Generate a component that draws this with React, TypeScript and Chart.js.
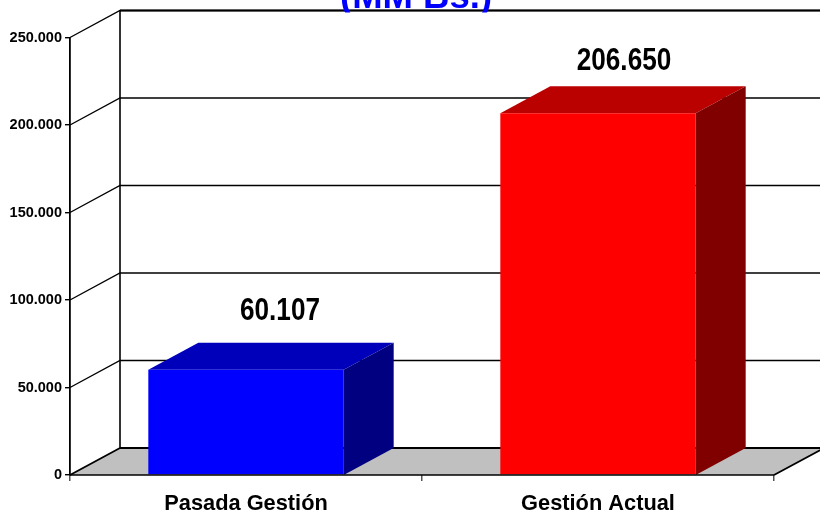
import React, { useEffect, useRef } from "react";
import { Chart, registerables } from "chart.js";

Chart.register(...registerables);

const categories = ["Pasada Gestión", "Gestión Actual"];
const values = [60107, 206650];
const valueLabels = ["60.107", "206.650"];
const frontColors = ["#0000FF", "#FF0000"];
const topColors = ["#0000BB", "#BB0000"];
const sideColors = ["#000080", "#800000"];
const titleText = "(MM Bs.)";
const yMax = 250000;
const yStep = 50000;

const FONT = '"Liberation Sans", Arial, sans-serif';
const DX = 50;
const DY = -27;
const labelShift = [
  { dx: 34, dy: -50 },
  { dx: 26, dy: -43.5 },
];

const formatTick = (v: number) =>
  v === 0 ? "0" : `${Math.floor(v / 1000)}.${String(v % 1000).padStart(3, "0")}`;

const box3d = {
  id: "box3d",
  beforeDatasetsDraw(chart: any) {
    const { ctx, scales } = chart;
    const x = scales.x;
    const y = scales.y;
    const left = x.left;
    const right = x.right;
    const base = y.getPixelForValue(0);
    const top = y.getPixelForValue(yMax);
    ctx.save();
    // floor
    ctx.fillStyle = "#C0C0C0";
    ctx.beginPath();
    ctx.moveTo(left, base);
    ctx.lineTo(right, base);
    ctx.lineTo(right + DX, base + DY);
    ctx.lineTo(left + DX, base + DY);
    ctx.closePath();
    ctx.fill();
    ctx.strokeStyle = "#000";
    // grid on walls
    ctx.lineWidth = 1.4;
    for (let v = yStep; v < yMax + 1; v += yStep) {
      const py = y.getPixelForValue(v);
      ctx.beginPath();
      ctx.moveTo(left, py);
      ctx.lineTo(left + DX, py + DY);
      ctx.lineTo(chart.width + 5, py + DY);
      ctx.stroke();
    }
    // back-left vertical
    ctx.lineWidth = 1.6;
    ctx.beginPath();
    ctx.moveTo(left + DX, top + DY);
    ctx.lineTo(left + DX, base + DY);
    ctx.stroke();
    // top and floor back edges
    ctx.lineWidth = 2;
    ctx.beginPath();
    ctx.moveTo(left + DX, top + DY);
    ctx.lineTo(chart.width + 5, top + DY);
    ctx.moveTo(left + DX, base + DY);
    ctx.lineTo(chart.width + 5, base + DY);
    ctx.stroke();
    // floor diagonals
    ctx.lineWidth = 1.8;
    ctx.beginPath();
    ctx.moveTo(left, base);
    ctx.lineTo(left + DX, base + DY);
    ctx.moveTo(right, base);
    ctx.lineTo(right + DX, base + DY);
    ctx.stroke();
    // bar depth faces
    chart.getDatasetMeta(0).data.forEach((bar: any, i: number) => {
      const hw = bar.width / 2;
      const l = bar.x - hw;
      const r = bar.x + hw;
      ctx.fillStyle = topColors[i];
      ctx.beginPath();
      ctx.moveTo(l, bar.y);
      ctx.lineTo(r, bar.y);
      ctx.lineTo(r + DX, bar.y + DY);
      ctx.lineTo(l + DX, bar.y + DY);
      ctx.closePath();
      ctx.fill();
      ctx.fillStyle = sideColors[i];
      ctx.beginPath();
      ctx.moveTo(r, bar.y);
      ctx.lineTo(r + DX, bar.y + DY);
      ctx.lineTo(r + DX, base + DY);
      ctx.lineTo(r, base);
      ctx.closePath();
      ctx.fill();
    });
    ctx.restore();
  },
  afterDatasetsDraw(chart: any) {
    const { ctx, scales } = chart;
    const base = scales.y.getPixelForValue(0);
    ctx.save();
    // front base edge over bars
    ctx.strokeStyle = "#000";
    ctx.lineWidth = 1.6;
    ctx.beginPath();
    ctx.moveTo(scales.x.left, base);
    ctx.lineTo(scales.x.right, base);
    ctx.stroke();
    // value labels, horizontally condensed
    ctx.fillStyle = "#000";
    ctx.font = `bold 31.5px ${FONT}`;
    ctx.textAlign = "center";
    ctx.textBaseline = "alphabetic";
    chart.getDatasetMeta(0).data.forEach((bar: any, i: number) => {
      ctx.save();
      ctx.translate(bar.x + labelShift[i].dx, bar.y + labelShift[i].dy);
      ctx.scale(0.83, 1);
      ctx.fillText(valueLabels[i], 0, 0);
      ctx.restore();
    });
    // clipped title
    ctx.save();
    ctx.beginPath();
    ctx.rect(0, 0, chart.width, 12.5);
    ctx.clip();
    ctx.fillStyle = "#0000FF";
    ctx.font = `bold 36.5px ${FONT}`;
    ctx.fillText(titleText, 416, 7.5);
    ctx.restore();
    ctx.restore();
  },
};

export default function App() {
  const ref = useRef<HTMLCanvasElement | null>(null);
  useEffect(() => {
    document.body.style.margin = "0";
    document.body.style.background = "#fff";
    const chart = new Chart(ref.current as HTMLCanvasElement, {
      type: "bar",
      data: {
        labels: categories,
        datasets: [
          {
            data: values,
            backgroundColor: frontColors,
            borderWidth: 0,
            barPercentage: 0.555,
            categoryPercentage: 1,
          },
        ],
      },
      plugins: [box3d],
      options: {
        animation: false,
        responsive: false,
        layout: { padding: { top: 37.5, right: 46, left: 0, bottom: 0 } },
        plugins: { legend: { display: false }, tooltip: { enabled: false } },
        scales: {
          x: {
            afterFit: (s: any) => {
              s.height = 38;
            },
            grid: { drawOnChartArea: false, tickLength: 6, color: "#555", lineWidth: 1.5 },
            border: { display: false },
            ticks: {
              color: "#000",
              padding: 10,
              maxRotation: 0,
              font: { family: FONT, weight: "bold", size: 21.8 },
            },
          },
          y: {
            min: 0,
            max: yMax,
            afterFit: (s: any) => {
              s.width = 70;
            },
            grid: { drawOnChartArea: false, tickLength: 5, color: "#000", lineWidth: 1.4 },
            border: { display: true, color: "#000", width: 1.8 },
            ticks: {
              stepSize: yStep,
              color: "#000",
              padding: 3,
              font: { family: FONT, weight: "bold", size: 14.5 },
              callback: (v: any) => formatTick(Number(v)),
            },
          },
        },
      },
    } as any);
    return () => chart.destroy();
  }, []);
  return <canvas ref={ref} width={820} height={513} style={{ display: "block" }} />;
}
